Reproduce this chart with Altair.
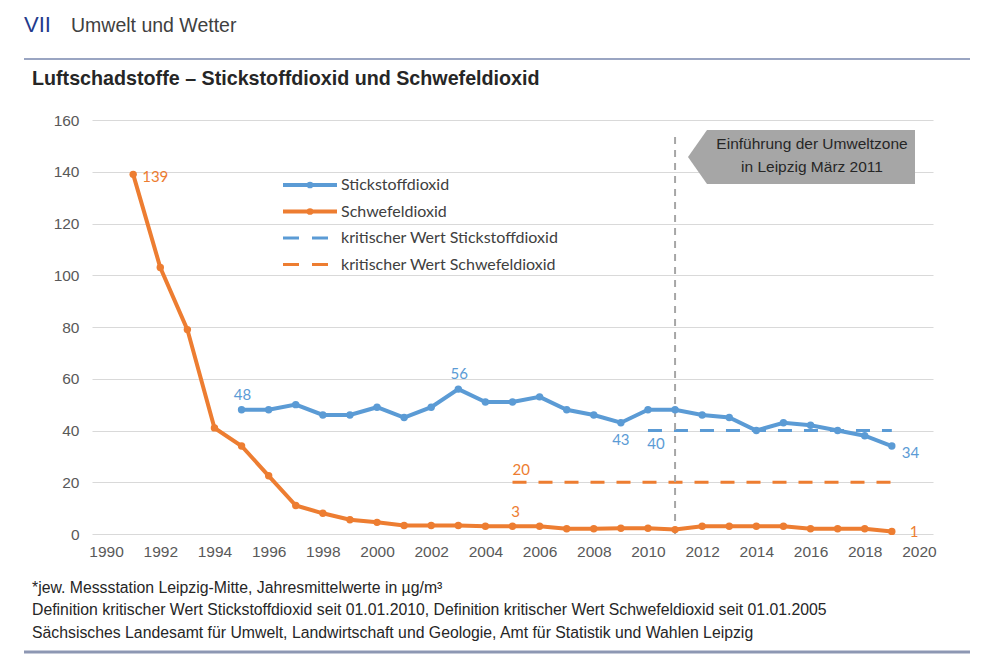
import altair as alt
import pandas as pd

# ---------------- data ----------------
years_no2 = list(range(1995, 2020))
no2 = [48, 48, 50, 46, 46, 49, 45, 49, 56, 51, 51, 53, 48, 46, 43, 48, 48, 46, 45, 40, 43, 42, 40, 38, 34]
years_so2 = list(range(1991, 2020))
so2 = [139, 103, 79, 41, 34, 22.5, 11, 8, 5.5, 4.5, 3.3, 3.3, 3.3, 3, 3, 3, 2, 2, 2.2, 2.2, 1.7, 3, 3, 3, 3, 2, 2, 2, 1]
crit_no2_years = [2010, 2019]
crit_no2 = [40, 40]
crit_so2_years = [2005, 2019]
crit_so2 = [20, 20]
umweltzone_year = 2011
x_ticks = list(range(1990, 2021, 2))
y_ticks = list(range(0, 161, 20))
legend_labels = ["Stickstoffdioxid", "Schwefeldioxid",
                 "kritischer Wert Stickstoffdioxid", "kritischer Wert Schwefeldioxid"]

BLUE = "#5B9BD5"
ORANGE = "#ED7D31"
GREY = "#A6A6A6"
TXT = "#262626"
AX = "#595959"
SANS = "Liberation Sans"
CAL = "Lato"

df_no2 = pd.DataFrame({"Jahr": years_no2, "Wert": no2})
df_so2 = pd.DataFrame({"Jahr": years_so2, "Wert": so2})
df_cn = pd.DataFrame({"Jahr": crit_no2_years, "Wert": crit_no2})
df_cs = pd.DataFrame({"Jahr": crit_so2_years, "Wert": crit_so2})
df_uz = pd.DataFrame({"Jahr": [umweltzone_year], "Wert": [0], "y1": [155]})
dummy = pd.DataFrame({"t": [0]})

xs = alt.Scale(domain=[1989.48, 2020.52], nice=False, zero=False)
ys = alt.Scale(domain=[0, 160], nice=False)

x_axis = alt.Axis(values=x_ticks, format="d", ticks=False, domain=False, grid=False,
                  labelFont=SANS, labelFontSize=15.5, labelColor=AX, labelPadding=10, title=None)
y_axis = alt.Axis(values=y_ticks, ticks=False, domain=False, grid=True, gridColor="#D9D9D9",
                  gridWidth=1, labelFont=SANS, labelFontSize=15.5, labelColor=AX,
                  labelPadding=13, title=None)


def X():
    return alt.X("Jahr:Q", scale=xs, axis=x_axis)


def Y():
    return alt.Y("Wert:Q", scale=ys, axis=y_axis)


crit_n = alt.Chart(df_cn).mark_line(color=BLUE, strokeWidth=3, strokeDash=[14, 12]).encode(x=X(), y=Y())
crit_s = alt.Chart(df_cs).mark_line(color=ORANGE, strokeWidth=3, strokeDash=[14, 12]).encode(x=X(), y=Y())

uz = alt.Chart(df_uz).mark_rule(color=GREY, strokeWidth=2, strokeDash=[7, 6]).encode(
    x=X(), y=Y(), y2="y1:Q")

line_s = alt.Chart(df_so2).mark_line(color=ORANGE, strokeWidth=4).encode(x=X(), y=Y())
pts_s = alt.Chart(df_so2).mark_point(color=ORANGE, filled=True, size=55, opacity=1).encode(x=X(), y=Y())
line_n = alt.Chart(df_no2).mark_line(color=BLUE, strokeWidth=4).encode(x=X(), y=Y())
pts_n = alt.Chart(df_no2).mark_point(color=BLUE, filled=True, size=55, opacity=1).encode(x=X(), y=Y())


def lab(df, year, color, dx, dy, align="center"):
    d = df[df["Jahr"] == year].copy()
    d["lbl"] = d["Wert"].round().astype(int).astype(str)
    return alt.Chart(d).mark_text(font=CAL, fontSize=15, color=color, dx=dx, dy=dy,
                                  align=align, baseline="middle").encode(
        x=X(), y=Y(), text="lbl:N")


labels = [
    lab(df_so2, 1991, ORANGE, 9, 3, "left"),
    lab(df_no2, 1995, BLUE, 1, -15),
    lab(df_no2, 2003, BLUE, 1, -15),
    lab(df_no2, 2009, BLUE, 0, 17),
    lab(df_cn, 2010, BLUE, 8, 13),
    lab(df_no2, 2019, BLUE, 10, 7, "left"),
    lab(df_cs, 2005, ORANGE, 0, -12, "left"),
    lab(df_so2, 2005, ORANGE, 3, -14),
    lab(df_so2, 2019, ORANGE, 18, 1, "left"),
]

# ---------------- legend (inside plot) ----------------
leg = []
styles = [(BLUE, False), (ORANGE, False), (BLUE, True), (ORANGE, True)]
for i, (lbl, (col, dashed)) in enumerate(zip(legend_labels, styles)):
    yy = 65 + 26.5 * i
    if dashed:
        leg.append(alt.Chart(dummy).mark_rule(color=col, strokeWidth=3, strokeDash=[16, 13]).encode(
            x=alt.value(191), x2=alt.value(245), y=alt.value(yy)))
    else:
        leg.append(alt.Chart(dummy).mark_rule(color=col, strokeWidth=4).encode(
            x=alt.value(191), x2=alt.value(245), y=alt.value(yy)))
        leg.append(alt.Chart(dummy).mark_point(color=col, filled=True, size=45, opacity=1).encode(
            x=alt.value(218), y=alt.value(yy)))
    leg.append(alt.Chart(dummy).mark_text(text=lbl, font=CAL, fontSize=16, color="#404040",
                                          align="left", baseline="middle").encode(
        x=alt.value(249), y=alt.value(yy)))

# ---------------- callout ----------------
callout_shape = "M-112,0L-93,-27L115,-27L115,27L-93,27Z"
callout = [
    alt.Chart(dummy).mark_point(shape=callout_shape, filled=True, color=GREY, size=4,
                                opacity=1, strokeWidth=0).encode(x=alt.value(708), y=alt.value(37)),
    alt.Chart(dummy).mark_text(text="Einführung der  Umweltzone", font=SANS, fontSize=15.5,
                               color=TXT, align="center", baseline="middle").encode(
        x=alt.value(720), y=alt.value(24)),
    alt.Chart(dummy).mark_text(text="in Leipzig März 2011", font=SANS, fontSize=15.5,
                               color=TXT, align="center", baseline="middle").encode(
        x=alt.value(720), y=alt.value(47)),
]


# ---------------- header / footer ----------------
def txt(s, x, y, size, color=TXT, weight="normal", font=SANS):
    return alt.Chart(dummy).mark_text(text=s, font=font, fontSize=size, color=color,
                                      fontWeight=weight, align="left", baseline="middle").encode(
        x=alt.value(x), y=alt.value(y))


deco = [
    txt("VII", -68, -95, 22, "#233A8C"),
    txt("Umwelt und Wetter", -21, -94, 19.5, "#404040"),
    alt.Chart(dummy).mark_rule(color="#7887AE", strokeWidth=1.3).encode(
        x=alt.value(-68), x2=alt.value(878), y=alt.value(-61)),
    txt("Luftschadstoffe – Stickstoffdioxid und Schwefeldioxid", -60, -41, 19.7, TXT, "bold"),
    txt("*jew. Messstation Leipzig-Mitte, Jahresmittelwerte in µg/m³", -60, 468, 15.8),
    txt("Definition kritischer Wert Stickstoffdioxid seit 01.01.2010, Definition kritischer Wert Schwefeldioxid seit 01.01.2005", -60, 490, 15.8),
    txt("Sächsisches Landesamt für Umwelt, Landwirtschaft und Geologie, Amt für Statistik und Wahlen Leipzig", -60, 513, 15.8),
    alt.Chart(dummy).mark_rule(color="#8D97B3", strokeWidth=3).encode(
        x=alt.value(-68), x2=alt.value(878), y=alt.value(532)),
]

chart = alt.layer(
    crit_n, crit_s, uz, line_s, line_n, pts_s, pts_n, *labels, *leg, *callout, *deco
).properties(
    width=841, height=414,
    padding={"left": 84, "top": 112, "right": 50, "bottom": 120},
    autosize=alt.AutoSizeParams(type="none"),
    background="white",
).configure_view(stroke=None)

chart.save("out.html", embed_options={"renderer": "svg", "actions": False})
